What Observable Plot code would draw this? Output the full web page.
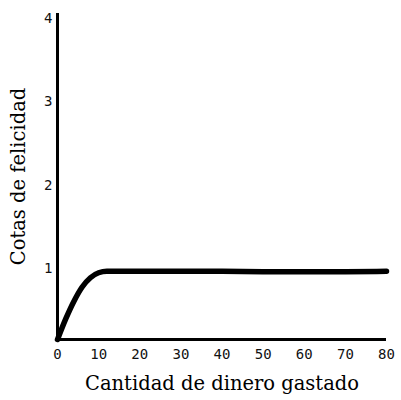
<!DOCTYPE html>
<html>
<head>
<meta charset="utf-8">
<script src="https://cdn.jsdelivr.net/npm/d3@7"></script>
<script src="https://cdn.jsdelivr.net/npm/@observablehq/plot@0.6"></script>
<style>
  html, body { margin: 0; padding: 0; background: #fff; }
  #chart svg { display: block; }
</style>
</head>
<body>
<div id="chart"></div>
<script>
// Data
const dinero = [0, 2, 4, 6, 8, 10, 12, 15, 20, 30, 40, 50, 60, 70, 80];
const felicidad = [0, 0.29, 0.54, 0.74, 0.87, 0.94, 0.96, 0.96, 0.96, 0.96, 0.96, 0.955, 0.955, 0.955, 0.96];
const xTicks = [0, 10, 20, 30, 40, 50, 60, 70, 80];
const yTicks = [1, 2, 3, 4];
const xLabel = "Cantidad de dinero gastado";
const yLabel = "Cotas de felicidad";

const data = dinero.map((d, i) => ({x: d, y: felicidad[i]}));

const serif = "DejaVu Serif";
const mono = "DejaVu Sans Mono";

// the printed figure's first unit (0 to 1) is drawn a little shorter than the others
const FIRST = 0.852;
const squeeze = (v) => (v <= 1 ? v * FIRST : v - (1 - FIRST));
const unsqueeze = (u) => (u <= FIRST ? u / FIRST : u + (1 - FIRST));

const chart = Plot.plot({
  width: 401,
  height: 400,
  marginLeft: 57,
  marginRight: 15,
  marginTop: 13,
  marginBottom: 61,
  style: {background: "#fff", color: "#000"},
  x: {domain: [0, 80], range: [57, 386]},
  y: {transform: squeeze, domain: [0, squeeze(4)], range: [339, 18]},
  marks: [
    Plot.axisX({ticks: xTicks, tickSize: 0, tickPadding: 10, fontSize: 14, fontFamily: mono, label: null, fill: "#111"}),
    Plot.axisY({ticks: yTicks.map(squeeze), tickFormat: (u) => String(Math.round(unsqueeze(u))), tickSize: 0, tickPadding: 5, fontSize: 14, fontFamily: mono, label: null, fill: "#111"}),
    Plot.ruleX([0], {stroke: "#000", strokeWidth: 3}),
    Plot.ruleY([0], {stroke: "#000", strokeWidth: 3}),
    Plot.line(data, {x: "x", y: "y", stroke: "#000", strokeWidth: 5.5, curve: "monotone-x", strokeLinecap: "round", strokeLinejoin: "round"}),
    Plot.text([xLabel], {frameAnchor: "bottom", dy: 44, fontSize: 19.5, fontFamily: serif, fill: "#000", lineAnchor: "middle", textAnchor: "middle"}),
    Plot.text([yLabel], {frameAnchor: "left", dx: -39, rotate: -90, fontSize: 19.5, fontFamily: serif, fill: "#000", lineAnchor: "middle", textAnchor: "middle"})
  ]
});
document.getElementById("chart").appendChild(chart);
</script>
</body>
</html>
